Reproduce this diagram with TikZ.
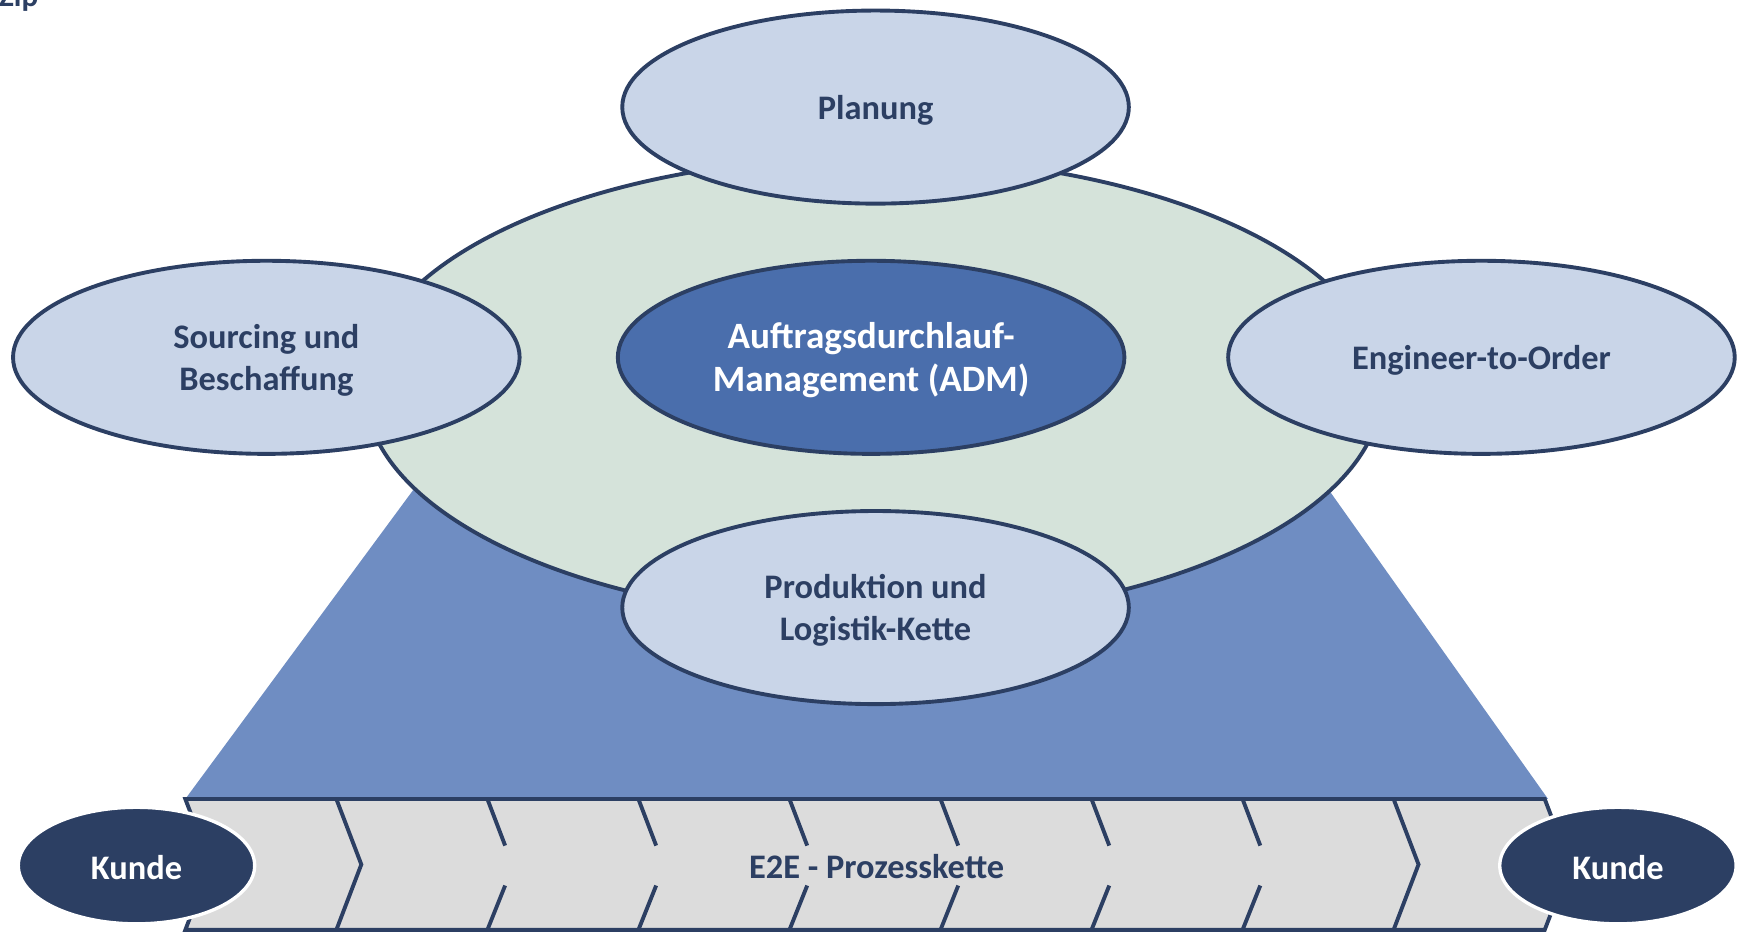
\documentclass[tikz,border=0pt]{standalone}
\usepackage{fontspec}
\setmainfont{Carlito}
\usetikzlibrary{shapes.geometric}
\definecolor{navy}{HTML}{2C3F63}
\definecolor{paleblue}{HTML}{C9D5E8}
\definecolor{sage}{HTML}{D5E3DA}
\definecolor{midblue}{HTML}{4A6EAC}
\definecolor{funnel}{HTML}{6F8DC2}
\definecolor{chain}{HTML}{DCDCDC}
\begin{document}
\begin{tikzpicture}[x=1pt,y=-1pt,
  labelfont/.style={font=\bfseries\fontsize{31}{38}\selectfont},
  bubble/.style={ellipse, draw=navy, line width=3.5pt, fill=paleblue,
    inner sep=0pt, minimum width=456.5pt, minimum height=174pt},
  core/.style={bubble, fill=midblue},
  caption/.style={text=navy, labelfont, align=center, inner sep=0pt},
  corecaption/.style={caption, text=white, font=\bfseries\fontsize{33.5}{39}\selectfont},
  ring/.style={ellipse, draw=navy, line width=3.5pt, fill=sage, inner sep=0pt,
    minimum width=917pt, minimum height=417pt},
  customer/.style={ellipse, draw=white, line width=3pt, fill=navy, text=white,
    labelfont, inner sep=0pt, minimum width=213pt, minimum height=105pt},
  divider/.style={draw=navy, line width=3.5pt},
  chainbox/.style={draw=navy, line width=3.5pt, fill=chain, line join=miter}]
\useasboundingbox (0,0) rectangle (1568,840);

% funnel from the ring down to the process chain
\fill[funnel] (403,400) -- (1168,400) -- (1395,720) -- (167,720) -- cycle;

% central ring
\node[ring] (ring) at (787,350) {};

% E2E process chain
\draw[chainbox] (167,720) -- (1392,720) -- (1414.5,779) -- (1392,838)
  -- (167,838) -- (189.5,779) -- cycle;
\foreach \i in {1,8} {
  \pgfmathsetmacro{\xa}{167+136.1*\i}
  \draw[divider] (\xa,720) -- (\xa+22.5,779) -- (\xa,838);
}
\foreach \i in {2,...,7} {
  \pgfmathsetmacro{\xa}{167+136.1*\i}
  \draw[divider] (\xa,720) -- (\xa+16,762);
  \draw[divider] (\xa+16,798) -- (\xa,838);
}
\node[caption] (e2e) at (790,781) {E2E - Prozesskette};

% customers at both ends
\node[customer] (kundeL) at (123,780) {};
\node[caption, text=white] (kundeLt) at ([yshift=-1.5pt]kundeL.center) {Kunde};
\node[customer] (kundeR) at (1458,780) {};
\node[caption, text=white] (kundeRt) at ([yshift=-1.5pt]kundeR.center) {Kunde};

% functional areas around the order management
\node[bubble] (plan) at (789,96.5) {};
\node[caption] (plant) at ([yshift=-2.5pt]plan.center) {Planung};
\node[bubble] (src) at (240,322) {};
\node[caption] (srct) at ([yshift=-2.5pt]src.center) {Sourcing und\\Beschaffung};
\node[core] (adm) at (785,322) {};
\node[corecaption] (admt) at ([yshift=-2.5pt]adm.center) {Auftragsdurchlauf-\\Management (ADM)};
\node[bubble] (eto) at (1335,322) {};
\node[caption] (etot) at ([yshift=-2.5pt]eto.center) {Engineer-to-Order};
\node[bubble] (prod) at (789,547.5) {};
\node[caption] (prodt) at ([yshift=-2.5pt]prod.center) {Produktion und\\Logistik-Kette};

% heading, cut by the top edge
\node[anchor=base west, text=navy, inner sep=0pt,
  font=\bfseries\fontsize{28}{32}\selectfont] (head) at (-1,5.5) {Zip};
\end{tikzpicture}
\end{document}
